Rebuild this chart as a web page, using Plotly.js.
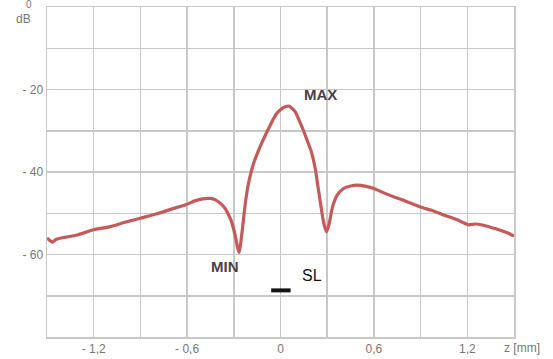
<!DOCTYPE html>
<html>
<head>
<meta charset="utf-8">
<script src="https://cdn.plot.ly/plotly-3.0.1.min.js"></script>
<style>html,body{margin:0;padding:0;background:#fff;}#chart{width:553px;height:359px;}</style>
</head>
<body>
<div id="chart"></div>
<script>
// Axial profile (z in mm, level in dB)
const zMm = [-1.5, -1.465, -1.44, -1.38, -1.3, -1.2, -1.1, -1.0, -0.9, -0.8, -0.7, -0.6, -0.55, -0.5, -0.45, -0.42, -0.38, -0.353, -0.32, -0.3, -0.285, -0.275, -0.265, -0.255, -0.245, -0.235, -0.222, -0.207, -0.19, -0.17, -0.15, -0.128, -0.105, -0.084, -0.065, -0.045, -0.02, 0.013, 0.035, 0.051, 0.07, 0.096, 0.12, 0.148, 0.17, 0.193, 0.21, 0.225, 0.244, 0.258, 0.27, 0.283, 0.295, 0.31, 0.334, 0.366, 0.405, 0.45, 0.495, 0.55, 0.6, 0.66, 0.726, 0.8, 0.9, 0.97, 1.047, 1.13, 1.208, 1.25, 1.304, 1.36, 1.413, 1.46, 1.5];
const levelDb = [-56, -57, -56.3, -55.8, -55.2, -54, -53.3, -52.2, -51.2, -50.2, -49, -47.8, -47, -46.5, -46.4, -46.7, -47.8, -49, -51.5, -54, -56.5, -58.5, -59.5, -57, -54, -50.5, -46.5, -43, -40.2, -37.6, -35.6, -33.6, -31.7, -30, -28.6, -27.1, -25.6, -24.5, -24.1, -24, -24.4, -25.5, -27.5, -30, -32.2, -34.5, -36.8, -39.5, -44.4, -47.8, -50.8, -53.2, -54.5, -53, -48.5, -45.5, -44, -43.4, -43.2, -43.5, -44, -45, -46, -47, -48.5, -49.3, -50.4, -51.5, -52.8, -52.6, -52.9, -53.5, -54.1, -54.8, -55.5];

// Slice-thickness marker (SL)
const slZ = [-0.06, 0.065];
const slDb = [-68.7, -68.7];

// Ticks
const xTickVals = [-1.5, -1.2, -0.9, -0.6, -0.3, 0, 0.3, 0.6, 0.9, 1.2, 1.5];
const xTickText = ['', '- 1,2', '', '- 0,6', '', '0', '', '0,6', '', '1,2', ''];
const yTickVals = [-80, -70, -60, -50, -40, -30, -20, -10, 0];
const yTickText = ['', '', '- 60', '', '- 40', '', '- 20', '', ''];

const grey = '#777';
const font = {family: 'Liberation Sans, Arial, sans-serif', size: 12, color: grey};
const labelFont = {family: 'Liberation Sans, Arial, sans-serif', size: 15, color: '#4e4046'};

const traces = [
  {x: zMm, y: levelDb, type: 'scatter', mode: 'lines',
   line: {color: '#c45a5a', width: 3.2, shape: 'spline', smoothing: 0.5}, hoverinfo: 'skip'},
  {x: slZ, y: slDb, type: 'scatter', mode: 'lines',
   line: {color: '#111', width: 4}, hoverinfo: 'skip'}
];

const layout = {
  width: 553, height: 359,
  margin: {l: 47, r: 39, t: 7, b: 22},
  paper_bgcolor: '#fff', plot_bgcolor: '#fff',
  showlegend: false,
  font: font,
  xaxis: {
    range: [-1.5, 1.5], showgrid: true,
    gridcolor: '#c8c8c8', gridwidth: 1.5, zeroline: false,
    showline: true, linecolor: '#c8c8c8', linewidth: 1.5, mirror: true,
    tickmode: 'array', tickvals: xTickVals, ticktext: xTickText,
    ticks: '', ticklen: 0, tickfont: font, fixedrange: true
  },
  yaxis: {
    range: [-80, 0], showgrid: true,
    gridcolor: '#c8c8c8', gridwidth: 1.5, zeroline: false,
    showline: true, linecolor: '#c8c8c8', linewidth: 1.5, mirror: true,
    tickmode: 'array', tickvals: yTickVals, ticktext: yTickText,
    ticks: '', ticklen: 0, tickfont: font, fixedrange: true
  },
  annotations: [
    {text: '0', xref: 'paper', yref: 'paper', x: 0, y: 1, xanchor: 'right', yanchor: 'top',
     xshift: -14, yshift: 9, borderpad: 0, showarrow: false, font: {family: font.family, size: 10, color: grey}},
    {text: 'dB', xref: 'paper', yref: 'paper', x: 0, y: 1, xanchor: 'right', yanchor: 'middle',
     xshift: -15, yshift: -12, borderpad: 0, showarrow: false, font: font},
    {text: 'z [mm]', xref: 'paper', yref: 'paper', x: 1, y: 0, xanchor: 'left', yanchor: 'middle',
     xshift: -12, yshift: -11, showarrow: false, font: font},
    {text: '<b>MAX</b>', x: 0.26, y: -21.2, xref: 'x', yref: 'y', showarrow: false, font: labelFont},
    {text: '<b>MIN</b>', x: -0.355, y: -62.8, xref: 'x', yref: 'y', showarrow: false, font: labelFont},
    {text: 'SL', x: 0.2, y: -65, xref: 'x', yref: 'y', showarrow: false,
     font: {family: 'Liberation Sans, Arial, sans-serif', size: 16, color: '#111'}}
  ]
};

Plotly.newPlot('chart', traces, layout, {displayModeBar: false, staticPlot: true});
</script>
</body>
</html>
